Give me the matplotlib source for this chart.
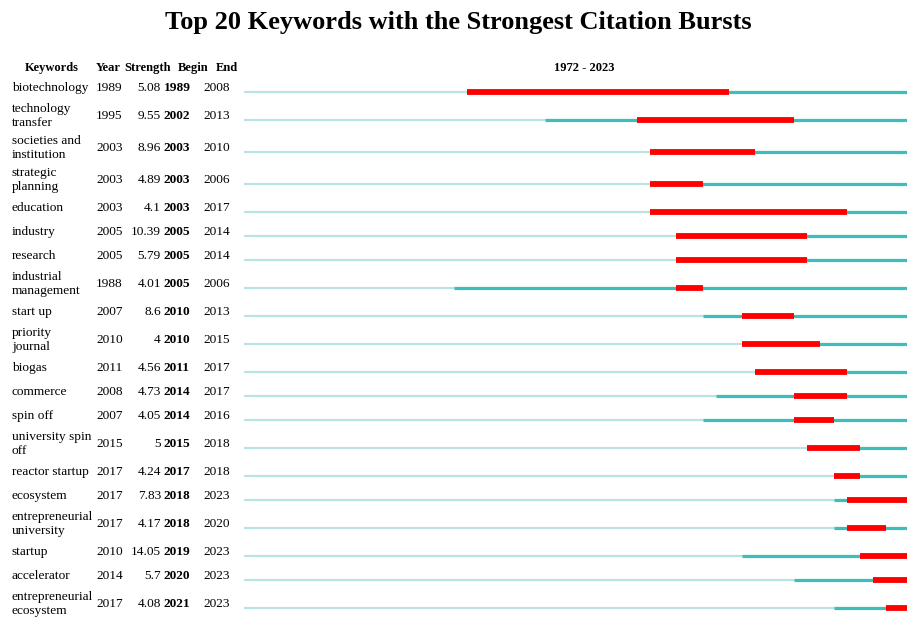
import matplotlib.pyplot as plt
import matplotlib.transforms as mtransforms

# Dados das palavras-chave
keywords = ['biotechnology', 'technology\ntransfer', 'societies and\ninstitution',
            'strategic\nplanning', 'education', 'industry', 'research',
            'industrial\nmanagement', 'start up', 'priority\njournal', 'biogas',
            'commerce', 'spin off', 'university spin\noff', 'reactor startup',
            'ecosystem', 'entrepreneurial\nuniversity', 'startup', 'accelerator',
            'entrepreneurial\necosystem']
years = [1989, 1995, 2003, 2003, 2003, 2005, 2005, 1988, 2007, 2010,
         2011, 2008, 2007, 2015, 2017, 2017, 2017, 2010, 2014, 2017]
strength = ['5.08', '9.55', '8.96', '4.89', '4.1', '10.39', '5.79', '4.01', '8.6', '4',
            '4.56', '4.73', '4.05', '5', '4.24', '7.83', '4.17', '14.05', '5.7', '4.08']
begin = [1989, 2002, 2003, 2003, 2003, 2005, 2005, 2005, 2010, 2010,
         2011, 2014, 2014, 2015, 2017, 2018, 2018, 2019, 2020, 2021]
end = [2008, 2013, 2010, 2006, 2017, 2014, 2014, 2006, 2013, 2015,
       2017, 2017, 2016, 2018, 2018, 2023, 2020, 2023, 2023, 2023]
first_year, last_year = 1972, 2023

W, H = 907, 622
fig = plt.figure(figsize=(W / 100, H / 100), dpi=100)
ax = fig.add_axes([0, 0, 1, 1])
px_year = 13.1
x0 = first_year - 244 / px_year
ax.set_xlim(x0, x0 + W / px_year)
ax.set_ylim(H, 0)
ax.axis('off')

# posições das linhas (altura depende do número de linhas do rótulo)
heights = [32 if '\n' in k else 24 for k in keywords]
ys = [92]
for i in range(1, len(keywords)):
    ys.append(ys[-1] + (heights[i - 1] + heights[i]) / 2)

light = '#b8e3e3'
teal = '#3dbdbd'
red = '#ff0000'
for y, yr, b, e in zip(ys, years, begin, end):
    ax.plot([first_year, last_year + 1], [y, y], color=light, lw=1.5, solid_capstyle='butt')
    ax.plot([yr, last_year + 1], [y, y], color=teal, lw=2.3, solid_capstyle='butt')
    ax.plot([b, e + 1], [y, y], color=red, lw=4.2, solid_capstyle='butt')

tr = mtransforms.blended_transform_factory(fig.transFigure, ax.transData)
font = dict(family='Liberation Serif', fontsize=9.6, va='center', transform=tr)
for y, k, yr, s, b, e in zip(ys, keywords, years, strength, begin, end):
    ty = y - 4
    ax.text(12 / W, ty, k, ha='left', linespacing=1.2, **font)
    ax.text(96 / W, ty, str(yr), ha='left', **font)
    ax.text(161 / W, ty, s, ha='right', **font)
    ax.text(164 / W, ty, str(b), ha='left', fontweight='bold', **font)
    ax.text(203 / W, ty, str(e), ha='left', **font)

hdr = dict(family='Liberation Serif', fontsize=9.0, fontweight='bold', va='baseline', transform=tr)
hy = 71
ax.text(52 / W, hy, 'Keywords', ha='center', **hdr)
ax.text(96 / W, hy, 'Year', ha='left', **hdr)
ax.text(124 / W, hy, 'Strength', ha='left', **hdr)
ax.text(178 / W, hy, 'Begin', ha='left', **hdr)
ax.text(216 / W, hy, 'End', ha='left', **hdr)
ax.text(584 / W, hy, f'{first_year} - {last_year}', ha='center', **hdr)

fig.text(458 / W, 1 - 23 / H, 'Top 20 Keywords with the Strongest Citation Bursts',
         ha='center', va='center', family='Liberation Serif', fontsize=19, fontweight='bold')

fig.savefig('out.png', dpi=100)
